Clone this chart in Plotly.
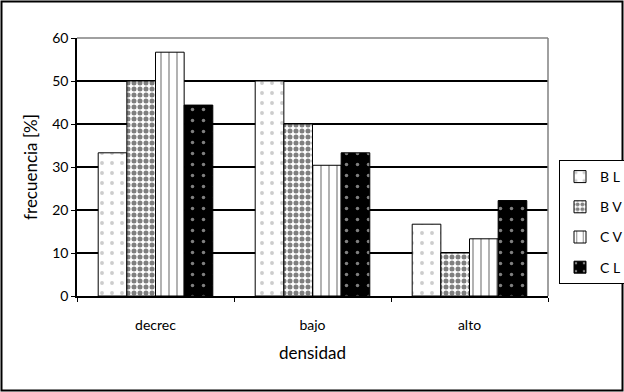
import plotly.graph_objects as go

categories = ["decrec", "bajo", "alto"]
series_names = ["B L", "B V", "C V", "C L"]
bl = [33.3, 50.0, 16.7]
bv = [50.0, 40.0, 10.0]
cv = [56.7, 30.4, 13.3]
cl = [44.4, 33.3, 22.2]

patterns = [
    dict(shape=".", fgcolor="#9a9a9a", bgcolor="white", size=10, solidity=0.12, fillmode="overlay"),
    dict(shape=".", fgcolor="black", bgcolor="white", size=6, solidity=0.55, fillmode="overlay"),
    dict(shape="|", fgcolor="black", bgcolor="white", size=8, solidity=0.15, fillmode="overlay"),
    dict(shape=".", fgcolor="white", bgcolor="black", size=11, solidity=0.08, fillmode="overlay"),
]

fig = go.Figure()
for name, vals, pat in zip(series_names, [bl, bv, cv, cl], patterns):
    fig.add_trace(go.Bar(
        x=categories, y=vals, name=name, legendgroup=name,
        marker=dict(color=pat["bgcolor"], pattern=pat, line=dict(color="black", width=1)),
    ))

L, R, T, B = 77, 76, 38, 96
W, H = 624, 392
pw, ph = W - L - R, H - T - B

fig.update_layout(
    width=W, height=H,
    margin=dict(l=L, r=R, t=T, b=B, autoexpand=False),
    paper_bgcolor="white", plot_bgcolor="white",
    barmode="group", bargap=0.27, bargroupgap=0,
    font=dict(family="Lato, Open Sans, sans-serif", size=14, color="black"),
    showlegend=True,
    legend=dict(x=(559 - L) / pw, y=(H - B - 160) / ph, xanchor="left", yanchor="top",
                bordercolor="black", borderwidth=1, bgcolor="white",
                font=dict(size=14), tracegroupgap=9, itemwidth=30),
    xaxis=dict(
        title=dict(text="densidad", standoff=16),
        showline=True, linecolor="black", linewidth=1.5,
        ticks="outside", tickson="boundaries", ticklen=4, tickcolor="black",
        ticklabelstandoff=15,
        showgrid=False, automargin=False,
    ),
    yaxis=dict(
        title=dict(text="frecuencia [%]", standoff=10),
        range=[0, 60], dtick=10,
        showline=True, linecolor="black", linewidth=1.5,
        ticks="outside", ticklen=4, tickcolor="black",
        showgrid=True, gridcolor="black", gridwidth=1.5,
        zeroline=False, automargin=False,
    ),
    shapes=[
        dict(type="rect", xref="paper", yref="paper",
             x0=-(L - 1.5) / pw, x1=1 + (R - 1.5) / pw,
             y0=-(B - 1.5) / ph, y1=1 + (T - 1.5) / ph,
             line=dict(color="black", width=2), fillcolor="rgba(0,0,0,0)", layer="below"),
        dict(type="line", xref="paper", yref="paper", x0=0, x1=1, y0=1, y1=1,
             line=dict(color="#808080", width=1.5)),
        dict(type="line", xref="paper", yref="paper", x0=1, x1=1, y0=0, y1=1,
             line=dict(color="#808080", width=1.5)),
    ],
)

fig.write_html("out.html", config={"displayModeBar": False},
               post_script="document.body.style.margin='0';")
